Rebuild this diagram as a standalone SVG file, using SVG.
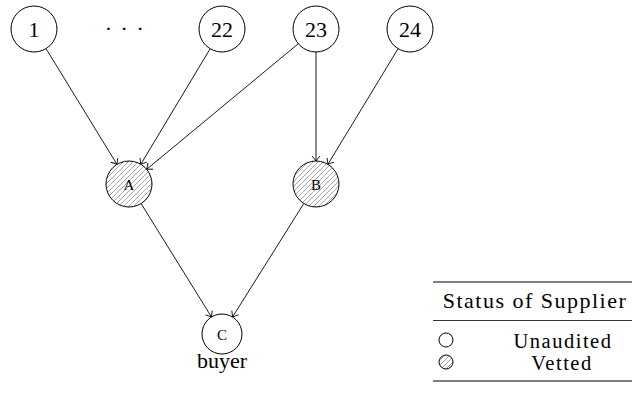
<svg xmlns="http://www.w3.org/2000/svg" width="632" height="394" viewBox="0 0 632 394">
<style>
.n{fill:#fff;stroke:#000;stroke-width:1}
.h{fill:url(#hatch);stroke:#000;stroke-width:1}
.t{font-family:'Liberation Serif','DejaVu Serif',serif;font-size:22px;fill:#000;text-anchor:middle}
.g{font-family:'Liberation Serif','DejaVu Serif',serif;font-size:20.5px;fill:#000;text-anchor:middle;letter-spacing:1.5px}
.s{font-family:'Liberation Serif','DejaVu Serif',serif;font-size:15px;fill:#000;text-anchor:middle}
.e{stroke:#000;stroke-width:0.9;fill:none;marker-end:url(#arr)}
.l{stroke:#000;fill:none}
</style>
<defs>
<pattern id="hatch" patternUnits="userSpaceOnUse" width="5" height="5">
<rect width="5" height="5" fill="#fff"/>
<path d="M-1,1 L1,-1 M0,5 L5,0 M4,6 L6,4" stroke="#8a8a8a" stroke-width="0.75" fill="none"/>
</pattern>
<marker id="arr" markerUnits="userSpaceOnUse" viewBox="-6 -5 7 10" refX="0" refY="0" markerWidth="7" markerHeight="10" orient="auto" overflow="visible">
<path d="M -5 -4 Q -1.5 -1 0 0 Q -1.5 1 -5 4" fill="none" stroke="#000" stroke-width="0.9"/>
</marker>
</defs>
<g id="connectors">
<line class="e" x1="46" y1="48.6" x2="117" y2="164.4"/>
<line class="e" x1="210.2" y1="48.7" x2="140.8" y2="164.3"/>
<line class="e" x1="298.3" y1="43.7" x2="146.7" y2="169.3"/>
<line class="e" x1="316" y1="52" x2="316" y2="161"/>
<line class="e" x1="398.1" y1="48.7" x2="327.9" y2="164.3"/>
<line class="e" x1="141.1" y1="203.6" x2="211.5" y2="317"/>
<line class="e" x1="303.8" y1="203.5" x2="232.5" y2="317"/>
</g>
<g id="n1"><circle class="n" cx="34" cy="29" r="23"/><text class="t" x="34" y="37">1</text></g>
<g id="dots"><text class="t" x="125" y="36" letter-spacing="1.5">· · ·</text></g>
<g id="n22"><circle class="n" cx="222" cy="29" r="23"/><text class="t" x="222" y="37">22</text></g>
<g id="n23"><circle class="n" cx="316" cy="29" r="23"/><text class="t" x="316" y="37">23</text></g>
<g id="n24"><circle class="n" cx="410" cy="29" r="23"/><text class="t" x="410" y="37">24</text></g>
<g id="nA"><circle class="h" cx="129" cy="184" r="23"/><text class="s" x="129" y="189.5">A</text></g>
<g id="nB"><circle class="h" cx="316" cy="184" r="23"/><text class="s" x="316" y="189.5">B</text></g>
<g id="nC"><circle class="n" cx="222" cy="334" r="20"/><text class="s" x="222" y="339.5">C</text><text class="t" x="222" y="368">buyer</text></g>
<g id="legend">
<line class="l" x1="433" y1="282" x2="632" y2="282" stroke-width="1.2"/>
<text class="t" x="535" y="308" letter-spacing="1.5">Status of Supplier</text>
<line class="l" x1="433" y1="320.5" x2="632" y2="320.5" stroke-width="0.8"/>
<circle class="n" cx="446" cy="340" r="7"/>
<text class="g" x="563" y="347.5">Unaudited</text>
<circle class="h" cx="446" cy="362" r="7"/>
<text class="g" x="562" y="370">Vetted</text>
<line class="l" x1="433" y1="381" x2="632" y2="381" stroke-width="1.2"/>
</g>
</svg>
